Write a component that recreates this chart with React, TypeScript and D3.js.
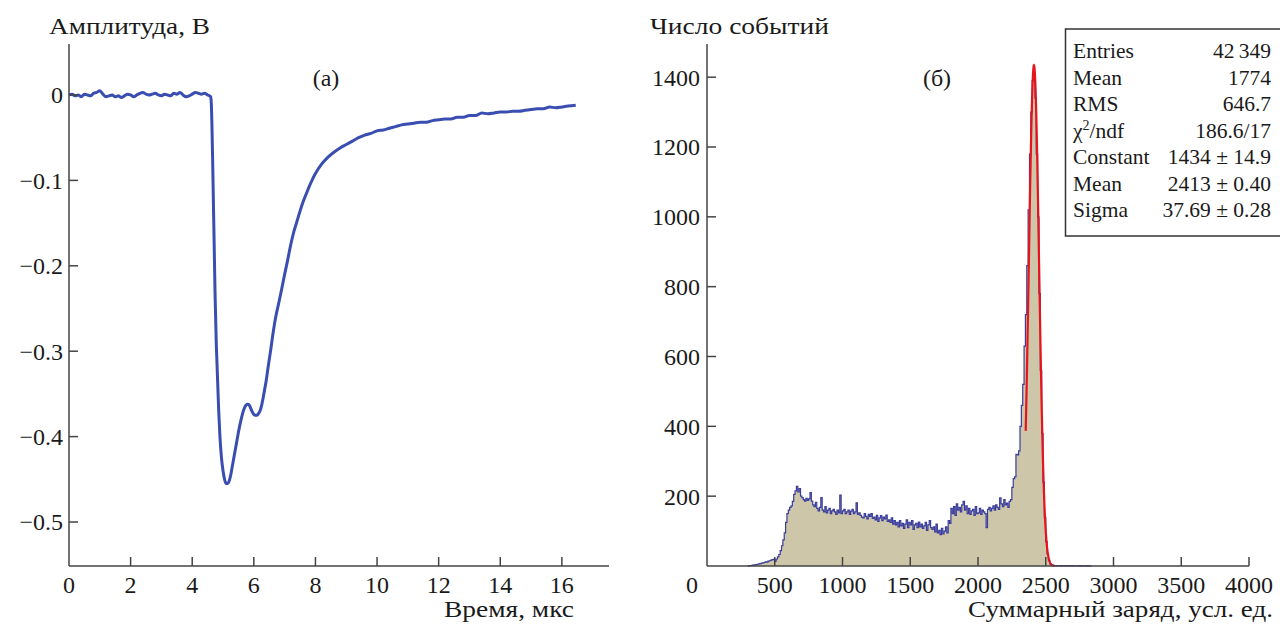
import React from "react";
import * as d3 from "d3";

// ---------- Panel (a): pulse waveform ----------
const pulseTime: number[] = [
  0.0, 0.1, 0.2, 0.3, 0.4, 0.5, 0.6, 0.7, 0.8, 0.9, 1.0, 1.1, 1.2, 1.3, 1.4, 1.5, 1.6, 1.7, 1.8, 1.9,
  2.0, 2.1, 2.2, 2.3, 2.4, 2.5, 2.6, 2.7, 2.8, 2.9, 3.0, 3.1, 3.2, 3.3, 3.4, 3.5, 3.6, 3.7, 3.8, 3.9,
  4.0, 4.1, 4.2, 4.3, 4.4, 4.5, 4.6,
  4.62, 4.64, 4.66, 4.68, 4.7, 4.72, 4.74, 4.76, 4.78, 4.8, 4.83, 4.86, 4.9, 4.95, 5.0, 5.05, 5.1, 5.15,
  5.2, 5.25, 5.3, 5.35, 5.4, 5.45, 5.5, 5.55, 5.6, 5.65, 5.7, 5.75, 5.8, 5.85, 5.9, 5.95, 6.0, 6.05,
  6.1, 6.15, 6.2, 6.25, 6.3, 6.35, 6.4, 6.45, 6.5, 6.55, 6.6, 6.7, 6.8, 6.9, 7.0, 7.1, 7.2, 7.3, 7.4,
  7.5, 7.6, 7.7, 7.8, 7.9, 8.0, 8.2, 8.4, 8.6, 8.8, 9.0, 9.2, 9.4, 9.6, 9.8, 10.0, 10.2, 10.4, 10.6,
  10.8, 11.0, 11.2, 11.4, 11.6, 11.8, 12.0, 12.2, 12.4, 12.6, 12.8, 13.0, 13.2, 13.4, 13.6, 13.8, 14.0,
  14.2, 14.4, 14.6, 14.8, 15.0, 15.2, 15.4, 15.6, 15.8, 16.0, 16.2, 16.45,
];
const pulseAmp: number[] = [
  0.0, 0.001, -0.001, 0.0, -0.002, 0.001, 0.0, -0.001, 0.002, 0.003, 0.005, 0.001, -0.002, -0.001, 0.0,
  -0.002, -0.001, -0.003, -0.001, 0.001, 0.0, -0.002, 0.0, 0.002, 0.003, 0.001, 0.0, 0.001, 0.002, 0.0,
  -0.001, 0.001, 0.0, -0.001, 0.002, 0.001, 0.003, 0.0, -0.002, -0.001, 0.001, 0.003, 0.002, 0.001, 0.002,
  0.0, -0.002,
  -0.01, -0.035, -0.07, -0.11, -0.15, -0.19, -0.23, -0.26, -0.29, -0.31, -0.34, -0.37, -0.4, -0.425, -0.44,
  -0.45, -0.455, -0.455,
  -0.452, -0.445, -0.435, -0.425, -0.415, -0.405, -0.395, -0.386, -0.378, -0.371, -0.366, -0.363, -0.362,
  -0.363, -0.367, -0.371, -0.374, -0.375,
  -0.375, -0.373, -0.37, -0.364, -0.355, -0.345, -0.335, -0.322, -0.31, -0.298, -0.285, -0.262, -0.245,
  -0.228, -0.21, -0.193, -0.175, -0.16, -0.148,
  -0.136, -0.125, -0.116, -0.107, -0.099, -0.092, -0.081, -0.073, -0.067, -0.062, -0.058, -0.054, -0.05,
  -0.047, -0.045, -0.042, -0.041, -0.039, -0.037,
  -0.035, -0.034, -0.033, -0.032, -0.032, -0.03, -0.029, -0.028, -0.028, -0.026, -0.026, -0.024, -0.024,
  -0.021, -0.022, -0.021, -0.02,
  -0.02, -0.019, -0.019, -0.018, -0.017, -0.016, -0.016, -0.014, -0.015, -0.014, -0.013, -0.012,
];
const pulseXTicks: number[] = [0, 2, 4, 6, 8, 10, 12, 14, 16];
const pulseYTicks: number[] = [0, -0.1, -0.2, -0.3, -0.4, -0.5];

// ---------- Panel (б): charge histogram ----------
const binStart = 300;
const binWidth = 10;
const binCounts: number[] = [
  0, 1, 1, 2, 3, 3, 4, 5, 6, 7,
  8, 9, 10, 12, 11, 14, 15, 17, 18, 19,
  13, 20, 26, 33, 44, 58, 75, 95, 125, 150,
  160, 168, 172, 185, 205, 215, 228, 212, 222, 200,
  196, 190, 186, 194, 188, 192, 210, 186, 175, 170,
  182, 165, 158, 168, 196, 160, 155, 170, 152, 160,
  165, 150, 158, 162, 155, 148, 160, 152, 203, 150,
  158, 162, 150, 155, 160, 148, 157, 162, 150, 155,
  181, 148, 152, 145, 140, 138, 150, 142, 135, 148,
  142, 150, 136, 140, 132, 145, 128, 138, 144, 130,
  140, 135, 146, 128, 132, 125, 138, 120, 130, 118,
  125, 112, 130, 115, 122, 108, 120, 132, 110, 125,
  118, 130, 105, 118, 122, 110, 126, 112, 120, 108,
  115, 125, 102, 118, 130, 110, 105, 112, 98, 120,
  95, 102, 90, 108, 92, 100, 112, 95, 130, 122,
  165, 150, 170, 145, 178, 160, 168, 155, 175, 185,
  160, 172, 150, 165, 148, 158, 162, 145, 170, 150,
  152, 165, 148, 160, 155, 150, 110, 162, 168, 158,
  165, 172, 160, 175, 168, 162, 195, 178, 170, 190,
  175, 180, 168, 185, 190, 225, 250, 255, 320, 318,
  330, 400, 460, 520, 630, 720, 860, 1020, 1180, 1300,
  1390, 1395, 1340, 1180, 1000, 780, 560, 380, 240, 140,
  70, 35, 15, 6, 3, 2, 1, 1, 0, 1,
  1, 0, 1, 1, 0, 1, 0, 1, 1, 0,
  1, 0, 0, 1, 1, 0, 1, 0, 0, 1,
  0, 1, 0, 0,
];
const histXTicks: number[] = [0, 500, 1000, 1500, 2000, 2500, 3000, 3500, 4000];
const histYTicks: number[] = [200, 400, 600, 800, 1000, 1200, 1400];

// Gaussian fit parameters (from the stats box)
const fitConstant = 1434;
const fitMean = 2413;
const fitSigma = 37.69;
const fitRange: [number, number] = [2352, 2565];

const statLabels: string[] = ["Entries", "Mean", "RMS", "χ2/ndf", "Constant", "Mean", "Sigma"];
const statValues: string[] = [
  "42\u2009349", "1774", "646.7", "186.6/17", "1434 ± 14.9", "2413 ± 0.40", "37.69 ± 0.28",
];

const FONT = "'Liberation Serif', 'Times New Roman', serif";
const AXIS = "#444";
const TEXT = "#1a1a1a";

export default function App() {
  // Left panel scales
  const lx = d3.scaleLinear().domain([0, 17.53]).range([69, 609]);
  const ly = d3.scaleLinear().domain([-0.5515, 0.0597]).range([566, 44]);
  // Right panel scales
  const rx = d3.scaleLinear().domain([0, 4000]).range([707, 1249]);
  const ry = d3.scaleLinear().domain([0, 1495]).range([566, 44]);

  const pulsePts: [number, number][] = pulseTime.map((t, i) => [t, pulseAmp[i]]);
  const pulsePath = d3
    .line<[number, number]>()
    .x((d) => lx(d[0]))
    .y((d) => ly(d[1]))
    .curve(d3.curveMonotoneX)(pulsePts) as string;

  const histPts: [number, number][] = binCounts.map((c, i) => [binStart + i * binWidth, c]);
  histPts.push([binStart + binCounts.length * binWidth, binCounts[binCounts.length - 1]]);
  const histArea = d3
    .area<[number, number]>()
    .x((d) => rx(d[0]))
    .y0(ry(0))
    .y1((d) => ry(d[1]))
    .curve(d3.curveStepAfter)(histPts) as string;
  const histLine = d3
    .line<[number, number]>()
    .x((d) => rx(d[0]))
    .y((d) => ry(d[1]))
    .curve(d3.curveStepAfter)(histPts) as string;

  const fitPts: [number, number][] = d3
    .range(fitRange[0], fitRange[1] + 0.5, 1)
    .map((x) => [x, fitConstant * Math.exp(-0.5 * ((x - fitMean) / fitSigma) ** 2)]);
  const fitPath = d3
    .line<[number, number]>()
    .x((d) => rx(d[0]))
    .y((d) => ry(d[1]))(fitPts) as string;

  const fmtY = (v: number) => (v === 0 ? "0" : "\u2212" + Math.abs(v).toFixed(1));

  const statTop = 58.3;
  const statStep = 26.45;

  return (
    <svg
      width={1280}
      height={625}
      style={{ position: "absolute", left: 0, top: 0, background: "#fff" }}
      fontFamily={FONT}
    >
      <rect x={0} y={0} width={1280} height={625} fill="#fff" />

      {/* ===== Left panel ===== */}
      <path d={pulsePath} fill="none" stroke="#3a4db0" strokeWidth={3} strokeLinejoin="round" />
      {/* axes */}
      <line x1={lx(0)} x2={lx(0)} y1={44} y2={566} stroke={AXIS} strokeWidth={1.5} />
      <line x1={69} x2={609} y1={566} y2={566} stroke={AXIS} strokeWidth={1.5} />
      {pulseXTicks.map((t) => (
        <g key={"lxt" + t}>
          {t !== 0 && <line x1={lx(t)} x2={lx(t)} y1={566} y2={557} stroke={AXIS} strokeWidth={1.5} />}
          <text x={lx(t)} y={593} textAnchor="middle" fontSize={24} fill={TEXT}>
            {t}
          </text>
        </g>
      ))}
      {pulseYTicks.map((v) => (
        <g key={"lyt" + v}>
          <line x1={69} x2={78} y1={ly(v)} y2={ly(v)} stroke={AXIS} strokeWidth={1.5} />
          <text x={63} y={ly(v)} dy="0.35em" textAnchor="end" fontSize={24} fill={TEXT}>
            {fmtY(v)}
          </text>
        </g>
      ))}
      <text x={49} y={34} fontSize={24} fill={TEXT} textLength={161} lengthAdjust="spacingAndGlyphs">
        Амплитуда, В
      </text>
      <text x={444} y={617} fontSize={24} fill={TEXT} textLength={130} lengthAdjust="spacingAndGlyphs">
        Время, мкс
      </text>
      <text x={326} y={86} textAnchor="middle" fontSize={24} fill={TEXT}>
        (а)
      </text>

      {/* ===== Right panel ===== */}
      <path d={histArea} fill="#cdc6a9" stroke="none" />
      <path d={histLine} fill="none" stroke="#3a3d9c" strokeWidth={1.2} />
      <path d={fitPath} fill="none" stroke="#e8141c" strokeWidth={2.2} />
      <line x1={707} x2={707} y1={44} y2={566} stroke={AXIS} strokeWidth={1.5} />
      <line x1={707} x2={1249} y1={566} y2={566} stroke={AXIS} strokeWidth={1.5} />
      {histXTicks.map((t) => (
        <g key={"rxt" + t}>
          {t !== 0 && <line x1={rx(t)} x2={rx(t)} y1={566} y2={557} stroke={AXIS} strokeWidth={1.5} />}
          <text x={t === 0 ? rx(t) - 15 : rx(t)} y={593} textAnchor="middle" fontSize={24} fill={TEXT}>
            {t}
          </text>
        </g>
      ))}
      {histYTicks.map((v) => (
        <g key={"ryt" + v}>
          <line x1={707} x2={716} y1={ry(v)} y2={ry(v)} stroke={AXIS} strokeWidth={1.5} />
          <text x={700} y={ry(v)} dy="0.35em" textAnchor="end" fontSize={24} fill={TEXT}>
            {v}
          </text>
        </g>
      ))}
      <text x={650} y={34} fontSize={24} fill={TEXT} textLength={179} lengthAdjust="spacingAndGlyphs">
        Число событий
      </text>
      <text x={968} y={617} fontSize={24} fill={TEXT} textLength={305} lengthAdjust="spacingAndGlyphs">
        Суммарный заряд, усл. ед.
      </text>
      <text x={937} y={86} textAnchor="middle" fontSize={24} fill={TEXT}>
        (б)
      </text>

      {/* stats box */}
      <rect x={1065.5} y={29} width={240} height={207} fill="#fff" stroke="#333" strokeWidth={1.5} />
      {statLabels.map((lab, i) => (
        <g key={"st" + i}>
          <text x={1073} y={statTop + i * statStep} fontSize={21.5} fill={TEXT}>
            {lab === "χ2/ndf" ? (
              <>
                χ<tspan dy={-8} fontSize={14}>2</tspan>
                <tspan dy={8}>/ndf</tspan>
              </>
            ) : (
              lab
            )}
          </text>
          <text x={1271} y={statTop + i * statStep} textAnchor="end" fontSize={21.5} fill={TEXT}>
            {statValues[i]}
          </text>
        </g>
      ))}
    </svg>
  );
}
